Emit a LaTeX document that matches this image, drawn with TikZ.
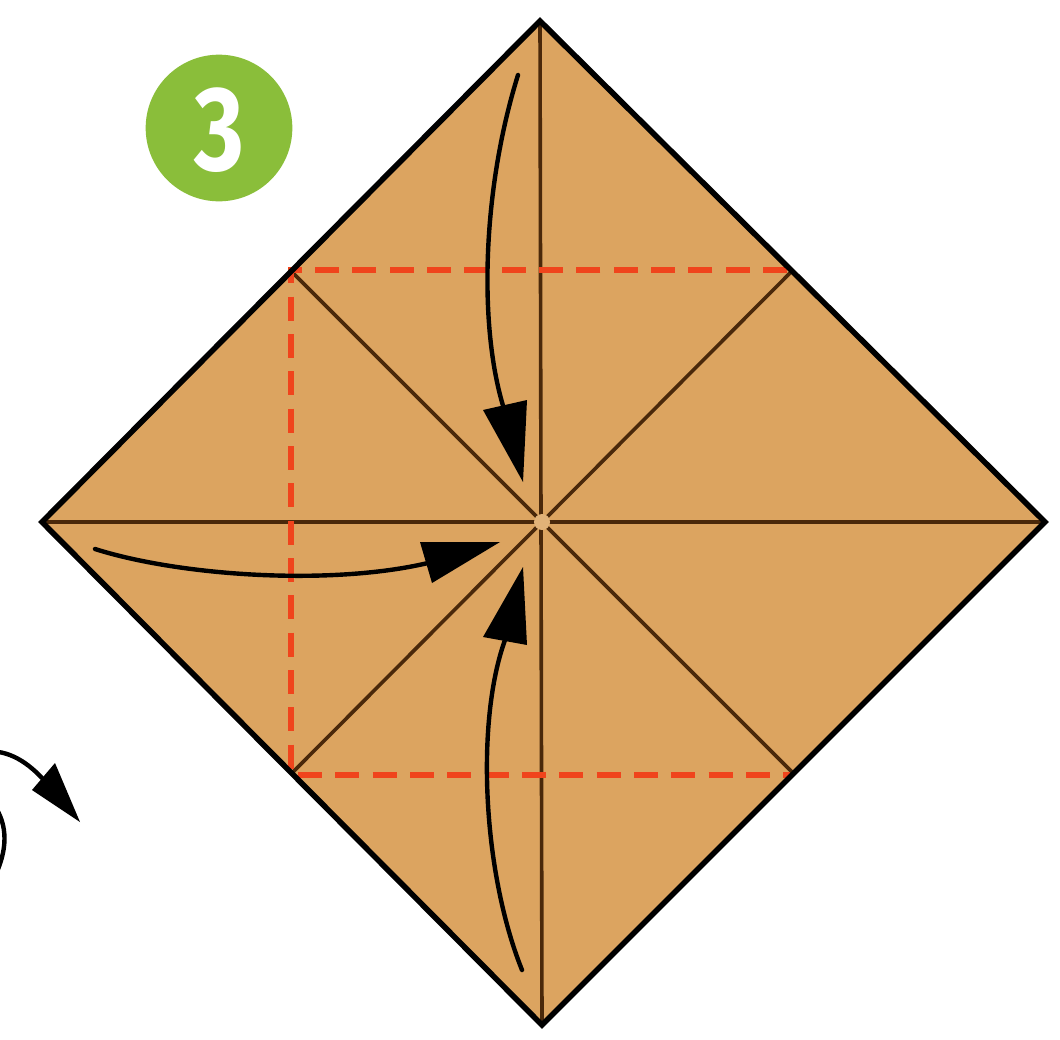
\documentclass[tikz,border=0pt]{standalone}
\usepackage{fontspec}
\newfontfamily\numfont{Fira Sans}
\definecolor{paper}{RGB}{220,164,96}
\definecolor{crease}{RGB}{74,40,10}
\definecolor{redfold}{RGB}{240,68,28}
\definecolor{stepgreen}{RGB}{138,190,58}
\tikzset{
  creaseline/.style={crease, line width=2.7pt},
  edgeline/.style={black, line width=4.2pt, line join=miter},
  foldline/.style={redfold, line width=4.4pt, dash pattern=on 18pt off 10pt},
  shaft/.style={black, line width=3.3pt, line cap=round},
  headtip/.style={black, fill=black, line join=round, line width=1pt}
}
\begin{document}
\begin{tikzpicture}[x=0.75pt,y=-0.75pt]
\useasboundingbox (0,0) rectangle (1060,1039);
\begin{scope}
\clip (0,0) rectangle (1060,1039);
% points
\coordinate (T) at (540,21);
\coordinate (R) at (1045,522);
\coordinate (B) at (542,1025);
\coordinate (L) at (42,522);
\coordinate (C) at (542,522);
\coordinate (TL) at (291,271);
\coordinate (TR) at (792,271);
\coordinate (BL) at (292,773);
\coordinate (BR) at (793,773);
% paper
\fill[paper] (T) -- (R) -- (B) -- (L) -- cycle;
% creases
\draw[creaseline] (T) -- (B);
\draw[creaseline] (L) -- (R);
\draw[creaseline] (TL) -- (BR);
\draw[creaseline] (TR) -- (BL);
\fill[paper!85!white] (C) circle (8);
% dashed fold lines
\draw[foldline] (787,270) -- (291,270) -- (291,775) -- (790,775);
% edge
\draw[edgeline] (T) -- (R) -- (B) -- (L) -- cycle;
% step number
\node[circle, fill=stepgreen, minimum size=110pt, inner sep=0pt] (num) at (219,128) {};
\node[text=white, xscale=0.8, inner sep=0pt] (numtext) at (219,130) {\numfont\bfseries\fontsize{90}{90}\selectfont 3};
% top arrow
\draw[shaft] (518,75) .. controls (482,190) and (478,330) .. (505,412);
\fill[headtip] (483,410) -- (527,400) -- (523,482) -- cycle;
% bottom arrow
\draw[shaft] (522,970) .. controls (482,870) and (476,720) .. (505,640);
\fill[headtip] (483,637) -- (527,645) -- (523,567) -- cycle;
% left arrow
\draw[shaft] (95,549) .. controls (180,576) and (330,586) .. (428,563);
\fill[headtip] (420,542) -- (432,583) -- (500,542) -- cycle;
% turn-over arrow (partly off picture)
\draw[shaft] (-20,752) .. controls (5,748) and (25,760) .. (42,778);
\fill[headtip] (32,790) -- (55,763) -- (80,822) -- cycle;
\draw[shaft] (-6,805) .. controls (8,825) and (8,850) .. (-6,878);
\end{scope}
\end{tikzpicture}
\end{document}
